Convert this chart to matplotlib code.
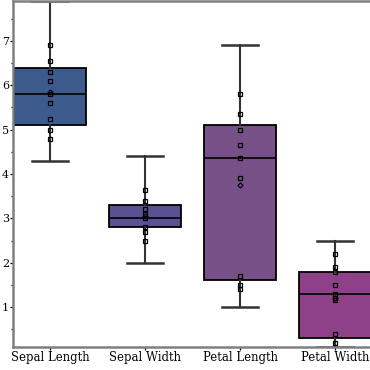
import matplotlib
matplotlib.use("Agg")
import matplotlib.pyplot as plt
from matplotlib.ticker import MultipleLocator

labels = ["Sepal Length", "Sepal Width", "Petal Length", "Petal Width"]
box_colors = ["#3d5a8d", "#5a5290", "#765087", "#8e4088"]

# box statistics: whisker low, q1, median, q3, whisker high
whislo = [4.3, 2.0, 1.0, 0.1]
q1 = [5.1, 2.8, 1.6, 0.3]
med = [5.8, 3.0, 4.35, 1.3]
q3 = [6.4, 3.3, 5.1, 1.8]
whishi = [7.9, 4.4, 6.9, 2.5]
means = [5.84, 3.06, 3.76, 1.2]

# sampled points shown on top of each box
pts_sepal_len = [6.9, 6.55, 6.3, 6.1, 5.8, 5.6, 5.25, 5.0, 4.8]
pts_sepal_wid = [3.65, 3.4, 3.2, 3.1, 3.0, 2.8, 2.7, 2.5]
pts_petal_len = [5.8, 5.35, 5.0, 4.65, 4.35, 3.9, 1.7, 1.5, 1.4]
pts_petal_wid = [2.2, 1.9, 1.8, 1.5, 1.3, 1.2, 1.15, 0.4, 0.2]
points = [pts_sepal_len, pts_sepal_wid, pts_petal_len, pts_petal_wid]

plt.rcParams['font.family'] = ['DejaVu Serif']

fig = plt.figure(figsize=(3.7, 3.7), dpi=100)
# axes run past the right edge of the figure, as in the original
ax = fig.add_axes([13 / 370, 23 / 370, 380 / 370, 346 / 370])

stats = []
for i in range(4):
    stats.append(dict(whislo=whislo[i], q1=q1[i], med=med[i], q3=q3[i],
                      whishi=whishi[i], fliers=[], label=labels[i]))

bp = ax.bxp(stats, positions=range(4), widths=0.75, patch_artist=True,
            showfliers=False,
            boxprops=dict(edgecolor="black", linewidth=1.3),
            medianprops=dict(color="black", linewidth=1.2),
            whiskerprops=dict(color="#333333", linewidth=1.5),
            capprops=dict(color="#333333", linewidth=1.8),
            capwidths=0.38)
for patch, c in zip(bp["boxes"], box_colors):
    patch.set_facecolor(c)

for i, vals in enumerate(points):
    ax.plot([i] * len(vals), vals, ls="none", marker="s", ms=3.4,
            mfc="none", mec="black", mew=0.9, zorder=5)
ax.plot(range(4), means, ls="none", marker="D", ms=2.6, mfc="none",
        mec="black", mew=0.8, zorder=5)

ax.set_xlim(-0.39, 3.61)
ax.set_ylim(0.1, 7.9)
ax.yaxis.set_minor_locator(MultipleLocator(0.5))
ax.set_yticks([1, 2, 3, 4, 5, 6, 7])
ax.set_xticks(range(4))
ax.set_xticklabels(labels)
ax.tick_params(axis="x", labelsize=8.4, pad=0.5, length=2.5, width=0.9)
ax.tick_params(axis="y", labelsize=8.0, pad=0.3, length=2.5, width=0.9)
ax.tick_params(axis="y", which="minor", length=1.8, width=0.9)

for s in ["left", "bottom", "top"]:
    ax.spines[s].set_color("#808080")
    ax.spines[s].set_linewidth(1.8)
ax.spines["right"].set_visible(False)

fig.savefig("out.png", dpi=100)
